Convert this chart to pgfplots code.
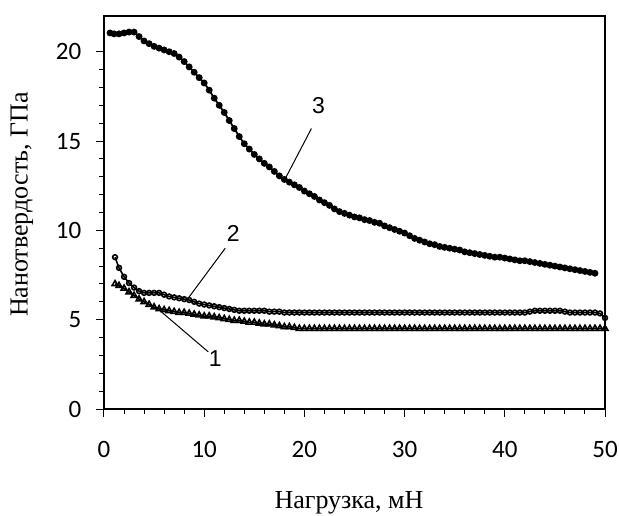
\documentclass[border=0pt]{standalone}
\usepackage{fontspec}
\setmainfont{Liberation Serif}
\newfontfamily\tickfont{Carlito}
\newfontfamily\numfont{Liberation Sans}
\usepackage{pgfplots}
\pgfplotsset{compat=1.18}

\begin{document}
\begin{tikzpicture}
\begin{axis}[
    at={(0,0)}, anchor=south west,
    scale only axis,
    width=250.5pt, height=196.5pt,
    xmin=0, xmax=50, ymin=0, ymax=22,
    xtick={0,10,...,50}, ytick={0,5,...,20},
    minor x tick num=4, minor y tick num=4,
    xtick pos=left, ytick pos=left,
    tick align=outside,
    major tick length=4pt, minor tick length=2.5pt,
    every tick/.style={black, line width=0.5pt},
    axis line style={line width=1pt},
    /pgf/number format/assume math mode=true,
    tick label style={font=\fontsize{12.5}{14}\selectfont\tickfont},
    xticklabel shift=8.8pt,
    yticklabel shift=3.8pt,
    xlabel={Нагрузка, мН},
    ylabel={Нанотвердость, ГПа},
    label style={font=\fontsize{13}{15}\selectfont},
    xlabel style={at={(axis description cs:0.489,-0.239)}, anchor=center},
    ylabel style={at={(axis description cs:-0.164,0.52)}, anchor=center},
    clip=false,
]
% 3
\addplot[black, line width=0.9pt, mark=*, mark size=1.25pt] coordinates {
(0.6,21.05) (1.0,21.0) (1.5,21.0) (2.0,21.05) (2.5,21.1) (3.0,21.1) (3.5,20.85)
(4.0,20.6) (4.5,20.45) (5.0,20.3) (5.5,20.2) (6.0,20.1) (6.5,20.0) (7.0,19.9)
(7.5,19.7) (8.0,19.45) (8.5,19.15) (9.0,18.85) (9.5,18.55) (10.0,18.25)
(10.5,17.85) (11.0,17.4) (11.5,17.0) (12.0,16.6) (12.5,16.15) (13.0,15.7)
(13.5,15.25) (14.0,14.85) (14.5,14.55) (15.0,14.25) (15.5,14.0) (16.0,13.75)
(16.5,13.55) (17.0,13.3) (17.5,13.05) (18.0,12.85) (18.5,12.7) (19.0,12.55)
(19.5,12.4) (20.0,12.2) (20.5,12.05) (21.0,11.9) (21.5,11.7) (22.0,11.55)
(22.5,11.4) (23.0,11.2) (23.5,11.05) (24.0,10.95) (24.5,10.85) (25.0,10.75)
(25.5,10.7) (26.0,10.6) (26.5,10.55) (27.0,10.45) (27.5,10.4) (28.0,10.25)
(28.5,10.15) (29.0,10.05) (29.5,9.95) (30.0,9.85) (30.5,9.7) (31.0,9.55)
(31.5,9.45) (32.0,9.35) (32.5,9.25) (33.0,9.2) (33.5,9.1) (34.0,9.05)
(34.5,9.0) (35.0,8.95) (35.5,8.9) (36.0,8.8) (36.5,8.75) (37.0,8.7)
(37.5,8.65) (38.0,8.6) (38.5,8.55) (39.0,8.5) (39.5,8.5) (40.0,8.45)
(40.5,8.4) (41.0,8.35) (41.5,8.3) (42.0,8.3) (42.5,8.25) (43.0,8.2)
(43.5,8.15) (44.0,8.1) (44.5,8.05) (45.0,8.0) (45.5,7.95) (46.0,7.9)
(46.5,7.85) (47.0,7.8) (47.5,7.75) (48.0,7.7) (48.5,7.65) (49.0,7.6)
};
% 2
\addplot[black, line width=0.8pt, mark=o, mark size=1.2pt] coordinates {
(1.1,8.5) (1.5,7.9) (2.0,7.4) (2.5,7.05) (3.0,6.8) (3.5,6.6) (4.0,6.5)
(4.5,6.5) (5.0,6.5) (5.5,6.5) (6.0,6.4) (6.5,6.3) (7.0,6.25) (7.5,6.2)
(8.0,6.15) (8.5,6.1) (9.0,6.0) (9.5,5.9) (10.0,5.85) (10.5,5.8) (11.0,5.75)
(11.5,5.7) (12.0,5.65) (12.5,5.6) (13.0,5.55) (13.5,5.5) (14.0,5.5)
(14.5,5.5) (15.0,5.5) (15.5,5.5) (16.0,5.5) (16.5,5.45) (17.0,5.45)
(17.5,5.45) (18.0,5.4) (18.5,5.4) (19.0,5.4) (19.5,5.4) (20.0,5.4)
(20.5,5.4) (21.0,5.4) (21.5,5.4) (22.0,5.4) (22.5,5.4) (23.0,5.4)
(23.5,5.4) (24.0,5.4) (24.5,5.4) (25.0,5.4) (25.5,5.4) (26.0,5.4)
(26.5,5.4) (27.0,5.4) (27.5,5.4) (28.0,5.4) (28.5,5.4) (29.0,5.4)
(29.5,5.4) (30.0,5.4) (30.5,5.4) (31.0,5.4) (31.5,5.4) (32.0,5.4)
(32.5,5.4) (33.0,5.4) (33.5,5.4) (34.0,5.4) (34.5,5.4) (35.0,5.4)
(35.5,5.4) (36.0,5.4) (36.5,5.4) (37.0,5.4) (37.5,5.4) (38.0,5.4)
(38.5,5.4) (39.0,5.4) (39.5,5.4) (40.0,5.4) (40.5,5.4) (41.0,5.4)
(41.5,5.4) (42.0,5.4) (42.5,5.45) (43.0,5.5) (43.5,5.5) (44.0,5.5)
(44.5,5.5) (45.0,5.5) (45.5,5.5) (46.0,5.45) (46.5,5.4) (47.0,5.4)
(47.5,5.4) (48.0,5.4) (48.5,5.4) (49.0,5.4) (49.5,5.35) (50.0,5.1)
};
% 1
\addplot[black, line width=0.8pt, mark=triangle, mark size=1.7pt] coordinates {
(1.1,7.0) (1.5,6.9) (2.0,6.75) (2.5,6.55) (3.0,6.35) (3.5,6.15) (4.0,6.0)
(4.5,5.85) (5.0,5.7) (5.5,5.6) (6.0,5.55) (6.5,5.5) (7.0,5.45) (7.5,5.4)
(8.0,5.4) (8.5,5.35) (9.0,5.3) (9.5,5.25) (10.0,5.2) (10.5,5.2) (11.0,5.15)
(11.5,5.1) (12.0,5.05) (12.5,5.0) (13.0,4.95) (13.5,4.95) (14.0,4.9)
(14.5,4.85) (15.0,4.85) (15.5,4.8) (16.0,4.75) (16.5,4.75) (17.0,4.7)
(17.5,4.65) (18.0,4.6) (18.5,4.6) (19.0,4.55) (19.5,4.5) (20.0,4.5)
(20.5,4.5) (21.0,4.5) (21.5,4.5) (22.0,4.5) (22.5,4.5) (23.0,4.5)
(23.5,4.5) (24.0,4.5) (24.5,4.5) (25.0,4.5) (25.5,4.5) (26.0,4.5)
(26.5,4.5) (27.0,4.5) (27.5,4.5) (28.0,4.5) (28.5,4.5) (29.0,4.5)
(29.5,4.5) (30.0,4.5) (30.5,4.5) (31.0,4.5) (31.5,4.5) (32.0,4.5)
(32.5,4.5) (33.0,4.5) (33.5,4.5) (34.0,4.5) (34.5,4.5) (35.0,4.5)
(35.5,4.5) (36.0,4.5) (36.5,4.5) (37.0,4.5) (37.5,4.5) (38.0,4.5)
(38.5,4.5) (39.0,4.5) (39.5,4.5) (40.0,4.5) (40.5,4.5) (41.0,4.5)
(41.5,4.5) (42.0,4.5) (42.5,4.5) (43.0,4.5) (43.5,4.5) (44.0,4.5)
(44.5,4.5) (45.0,4.5) (45.5,4.5) (46.0,4.5) (46.5,4.5) (47.0,4.5)
(47.5,4.5) (48.0,4.5) (48.5,4.5) (49.0,4.5) (49.5,4.5) (50.0,4.5)
};
% callouts
\draw[line width=0.5pt] (axis cs:20.7,15.7) -- (axis cs:18.0,12.8);
\draw[line width=0.5pt] (axis cs:12.1,9.0) -- (axis cs:8.4,6.2);
\draw[line width=0.5pt] (axis cs:10.4,3.2) -- (axis cs:5.6,5.5);
\node[font=\fontsize{11.5}{13}\selectfont\numfont] at (axis cs:21.4,17.0) {3};
\node[font=\fontsize{11.5}{13}\selectfont\numfont] at (axis cs:12.9,9.85) {2};
\node[font=\fontsize{11.5}{13}\selectfont\numfont] at (axis cs:11.1,2.85) {1};
\end{axis}
\pgfresetboundingbox
\path (-52pt,-53pt) rectangle (257.5pt,204.5pt);
\end{tikzpicture}
\end{document}
